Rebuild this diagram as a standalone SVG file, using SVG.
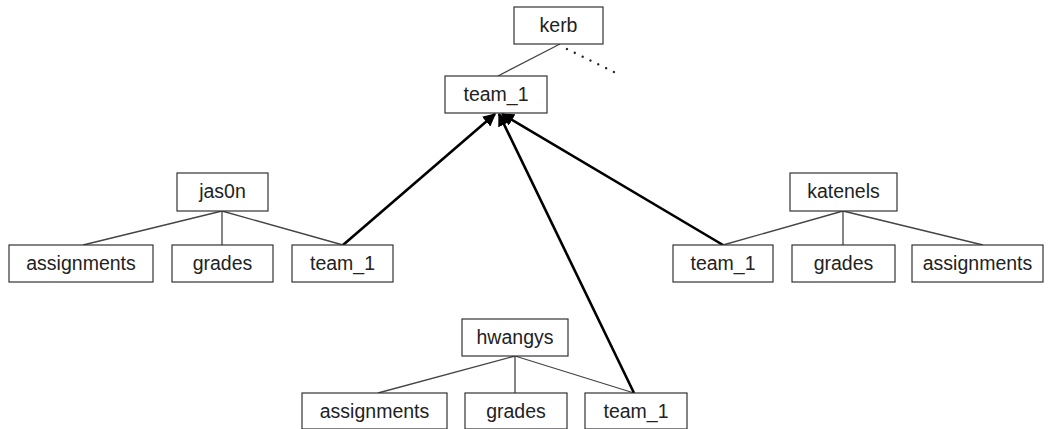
<svg xmlns="http://www.w3.org/2000/svg" width="1049" height="429" viewBox="0 0 1049 429">
<style>
.box{fill:#fff;stroke:#333;stroke-width:1.2}
.lbl{font-family:"Liberation Sans",Arial,sans-serif;font-size:19.5px;fill:#222;text-anchor:middle}
.thin{stroke:#444;stroke-width:1.3;fill:none}
.thick{stroke:#000;stroke-width:2.6;fill:none}
.dot{stroke:#222;stroke-width:2.4;stroke-dasharray:0.01 8.7;stroke-linecap:round;fill:none}
</style>
<defs>
<marker id="ah" viewBox="0 0 10 10" refX="9" refY="5" markerWidth="5" markerHeight="5" orient="auto" markerUnits="strokeWidth">
<path d="M0,0 L10,5 L0,10 z" fill="#000"/>
</marker>
</defs>
<rect width="1049" height="429" fill="#fff"/>
<g id="connectors">
<line class="thin" x1="560" y1="44" x2="498" y2="76"/>
<line class="dot" x1="567" y1="49" x2="614" y2="72"/>
<line class="thin" x1="222" y1="211" x2="83" y2="245"/>
<line class="thin" x1="222" y1="211" x2="222" y2="245"/>
<line class="thin" x1="222" y1="211" x2="343" y2="245"/>
<line class="thin" x1="843" y1="211" x2="723" y2="245"/>
<line class="thin" x1="843" y1="211" x2="843" y2="245"/>
<line class="thin" x1="843" y1="211" x2="983" y2="245"/>
<line class="thin" x1="515" y1="356" x2="378" y2="393"/>
<line class="thin" x1="515" y1="356" x2="515" y2="393"/>
<line class="thin" x1="515" y1="356" x2="634" y2="393"/>
<line class="thick" x1="343" y1="245" x2="495" y2="114" marker-end="url(#ah)"/>
<line class="thick" x1="634" y1="393" x2="499" y2="114" marker-end="url(#ah)"/>
<line class="thick" x1="723" y1="245" x2="502" y2="114" marker-end="url(#ah)"/>
</g>
<g id="kerb"><rect class="box" x="514" y="7" width="89" height="37"/><text class="lbl" x="558.5" y="32">kerb</text></g>
<g id="team1_top"><rect class="box" x="445" y="76" width="102" height="37"/><text class="lbl" x="496" y="101">team_1</text></g>
<g id="jas0n"><rect class="box" x="177" y="173" width="91" height="38"/><text class="lbl" x="222.5" y="198">jas0n</text></g>
<g id="jas0n_assignments"><rect class="box" x="9" y="245" width="144" height="37"/><text class="lbl" x="81" y="270">assignments</text></g>
<g id="jas0n_grades"><rect class="box" x="172" y="245" width="101" height="37"/><text class="lbl" x="222.5" y="270">grades</text></g>
<g id="jas0n_team1"><rect class="box" x="292" y="245" width="101" height="37"/><text class="lbl" x="342.5" y="270">team_1</text></g>
<g id="katenels"><rect class="box" x="790" y="173" width="107" height="38"/><text class="lbl" x="843.5" y="198">katenels</text></g>
<g id="katenels_team1"><rect class="box" x="673" y="245" width="100" height="37"/><text class="lbl" x="723" y="270">team_1</text></g>
<g id="katenels_grades"><rect class="box" x="792" y="245" width="103" height="37"/><text class="lbl" x="843.5" y="270">grades</text></g>
<g id="katenels_assignments"><rect class="box" x="912" y="245" width="131" height="37"/><text class="lbl" x="977.5" y="270">assignments</text></g>
<g id="hwangys"><rect class="box" x="462" y="319" width="106" height="37"/><text class="lbl" x="515" y="344">hwangys</text></g>
<g id="hwangys_assignments"><rect class="box" x="302" y="393" width="145" height="36"/><text class="lbl" x="374.5" y="418">assignments</text></g>
<g id="hwangys_grades"><rect class="box" x="465" y="393" width="102" height="36"/><text class="lbl" x="516" y="418">grades</text></g>
<g id="hwangys_team1"><rect class="box" x="585" y="393" width="102" height="36"/><text class="lbl" x="636" y="418">team_1</text></g>
</svg>
